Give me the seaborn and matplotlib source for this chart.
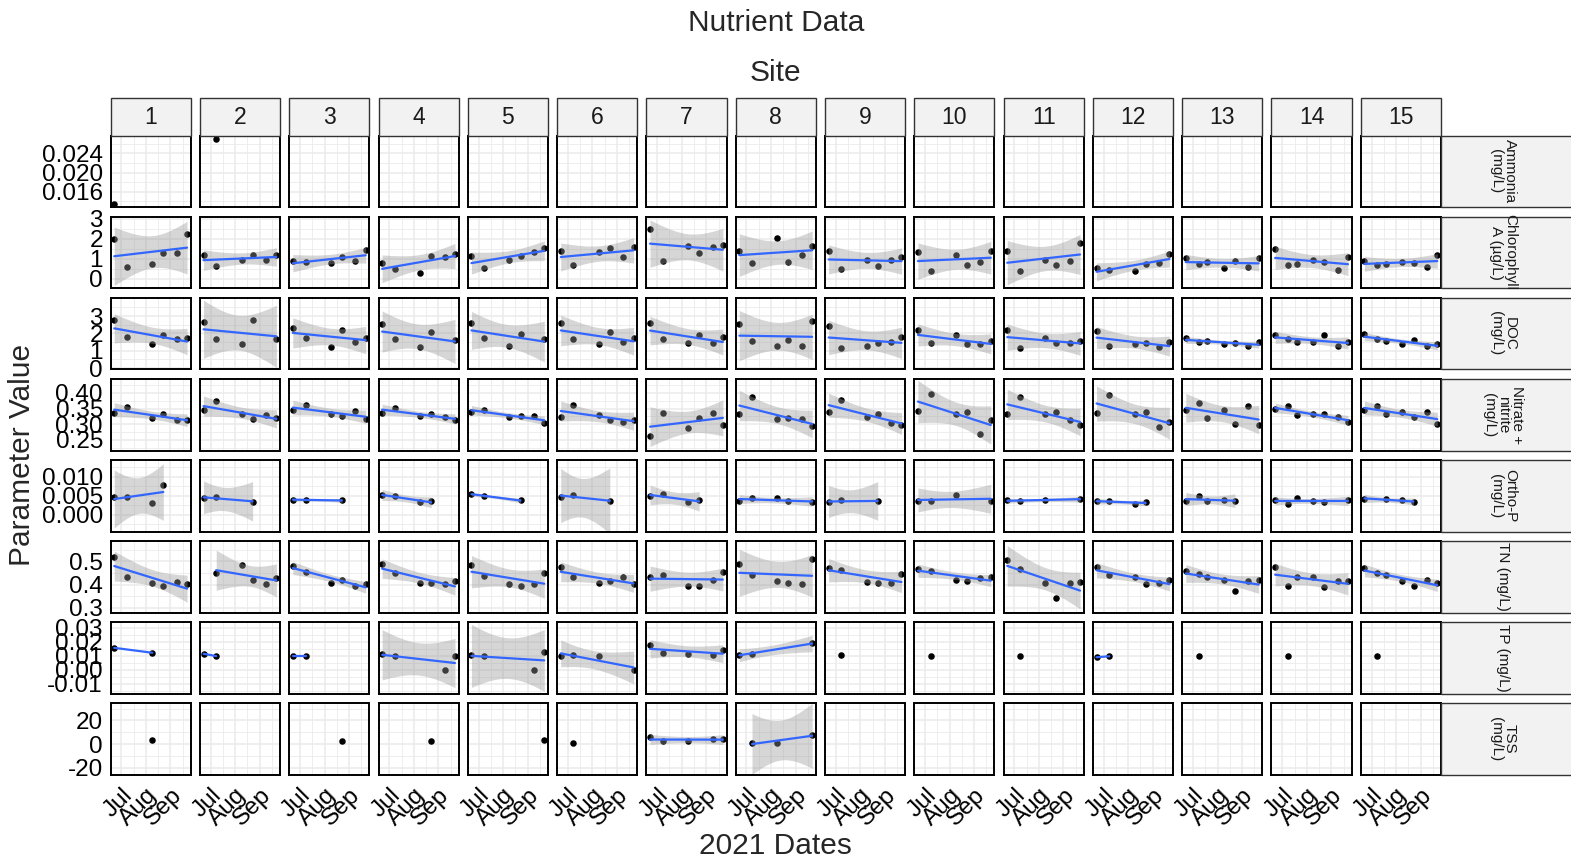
import numpy as np
import pandas as pd
import matplotlib
matplotlib.use("Agg")
import matplotlib.pyplot as plt
import matplotlib.dates as mdates
from matplotlib.patches import Rectangle
import seaborn as sns

# ---------------- data ----------------
SITES = [str(i) for i in range(1, 16)]
DATES = ["2021-06-22", "2021-07-08", "2021-07-19", "2021-08-09",
         "2021-08-23", "2021-09-09", "2021-09-22"]
PARAM_LABELS = ["Ammonia\n(mg/L)", "Chlorophyll\nA (µg/L)", "DOC\n(mg/L)",
                "Nitrate +\nnitrite\n(mg/L)", "Ortho-P\n(mg/L)", "TN (mg/L)",
                "TP (mg/L)", "TSS\n(mg/L)"]
X_TICKS = ["2021-07-01", "2021-08-01", "2021-09-01"]
X_TICK_LABELS = ["Jul", "Aug", "Sep"]

N = None
AMMONIA = [[0.0135, N, N, N, N, N, N], [N, 0.027, N, N, N, N, N]] + [[N] * 7 for _ in range(13)]

CHLA = [
    [2.00, 0.60, N, 0.75, 1.30, 1.30, 2.25],
    [1.22, 0.63, N, 0.97, 1.18, 0.93, 1.22],
    [0.92, 0.83, N, 0.78, 1.10, 0.92, 1.45],
    [0.80, 0.48, N, 0.30, 1.15, 1.10, 1.27],
    [1.15, 0.57, N, 0.97, 1.15, 1.33, 1.57],
    [1.40, 0.70, N, 1.37, 1.53, 1.08, 1.58],
    [2.50, 0.90, N, 1.63, 1.30, 1.58, 1.70],
    [1.40, 0.80, N, 2.03, 0.85, 1.20, 1.65],
    [1.40, 0.52, N, 0.97, 0.63, 0.97, 1.08],
    [1.35, 0.40, N, 1.20, 0.68, 0.87, 1.40],
    [1.40, 0.40, N, 0.97, 0.68, 0.92, 1.82],
    [0.53, 0.45, N, 0.40, 0.77, 0.80, 1.25],
    [1.03, 0.73, 0.85, 0.53, 0.92, 0.58, 1.03],
    [1.48, 0.68, 0.73, 0.97, 0.85, 0.47, 1.08],
    [0.92, 0.68, 0.73, 0.85, 0.80, 0.58, 1.20],
]

DOC = [
    [2.78, 1.80, N, 1.40, 1.89, 1.66, 1.75],
    [2.66, 1.68, N, 1.41, 2.79, N, 1.68],
    [2.33, 1.76, N, 1.24, 2.22, 1.51, 1.76],
    [2.53, 1.68, N, 1.24, 2.09, N, 1.64],
    [2.60, 1.76, N, 1.30, 1.97, N, 1.70],
    [2.62, 1.69, N, 1.36, 2.08, 1.50, 1.75],
    [2.62, 1.69, N, 1.42, 1.88, 1.42, 1.81],
    [2.52, 1.56, N, 1.29, 1.61, 1.29, 2.73],
    [2.40, 1.17, N, 1.29, 1.42, 1.48, 1.81],
    [2.21, 1.42, N, 1.88, 1.36, 1.36, 1.56],
    [2.21, 1.17, N, 1.75, 1.42, 1.42, 1.56],
    [2.15, 1.29, N, 1.36, 1.42, 1.23, 1.50],
    [1.75, 1.50, 1.56, 1.36, 1.42, 1.29, 1.50],
    [1.88, 1.69, 1.50, 1.50, 1.88, 1.29, 1.50],
    [1.94, 1.69, 1.56, 1.36, 1.61, 1.29, 1.36],
]

NITRATE = [
    [0.337, 0.354, N, 0.320, 0.334, 0.313, 0.312],
    [0.345, 0.374, N, 0.331, 0.316, 0.329, 0.320],
    [0.345, 0.360, N, 0.334, 0.327, 0.342, 0.316],
    [0.337, 0.353, N, 0.327, 0.331, 0.324, 0.312],
    [0.339, 0.346, N, 0.324, 0.325, 0.325, 0.305],
    [0.324, 0.360, N, 0.328, 0.315, 0.308, 0.313],
    [0.262, 0.337, N, 0.288, 0.320, 0.337, 0.299],
    [0.334, 0.386, N, 0.317, 0.320, 0.317, 0.294],
    [0.339, 0.378, N, 0.324, 0.331, 0.305, 0.299],
    [0.342, 0.397, N, 0.331, 0.339, 0.270, 0.313],
    [0.334, 0.386, N, 0.331, 0.339, 0.313, 0.296],
    [0.335, 0.392, N, 0.331, 0.339, 0.291, 0.306],
    [0.346, 0.368, 0.320, 0.346, 0.302, 0.357, 0.296],
    [0.349, 0.357, 0.328, 0.331, 0.331, 0.324, 0.306],
    [0.346, 0.357, 0.331, 0.339, 0.324, 0.339, 0.302],
]

ORTHO_P = [
    [0.0047, 0.0047, N, 0.0032, 0.0079, N, N],
    [0.0044, 0.0047, N, N, 0.0035, N, N],
    [0.0040, 0.0040, N, N, 0.0038, N, N],
    [0.0052, 0.0050, N, 0.0033, 0.0036, N, N],
    [0.0055, 0.0050, N, N, 0.0038, N, N],
    [0.0047, 0.0053, N, N, 0.0036, N, N],
    [0.0049, 0.0055, N, 0.0033, 0.0039, N, N],
    [0.0037, 0.0044, N, 0.0044, 0.0036, N, 0.0033],
    [0.0033, 0.0039, N, N, 0.0036, N, N],
    [0.0037, 0.0036, N, 0.0053, N, N, 0.0037],
    [0.0039, 0.0036, N, 0.0039, N, N, 0.0042],
    [0.0036, 0.0036, N, 0.0030, 0.0033, N, N],
    [0.0036, 0.0051, 0.0036, 0.0039, 0.0036, N, N],
    [0.0039, 0.0030, 0.0044, 0.0036, 0.0033, N, 0.0039],
    [0.0042, N, 0.0042, 0.0039, 0.0033, N, N],
]

TN = [
    [0.520, 0.434, N, 0.406, 0.394, 0.411, 0.401],
    [N, 0.448, N, 0.486, 0.420, 0.401, 0.430],
    [0.482, 0.455, N, 0.408, 0.420, 0.394, 0.401],
    [0.490, 0.448, N, 0.406, 0.406, 0.401, 0.415],
    [0.486, 0.439, N, 0.401, 0.392, 0.401, 0.448],
    [0.477, 0.431, N, 0.407, 0.417, 0.435, 0.403],
    [0.435, 0.441, N, 0.396, 0.396, 0.421, 0.453],
    [0.487, 0.441, N, 0.417, 0.407, 0.403, 0.509],
    [0.473, 0.463, N, 0.413, 0.407, 0.407, 0.445],
    [0.467, 0.459, N, 0.421, 0.417, 0.427, 0.431],
    [0.505, 0.467, N, 0.407, 0.342, 0.407, 0.413],
    [0.477, 0.441, N, 0.431, 0.403, 0.407, 0.420],
    [0.459, 0.445, 0.431, 0.421, 0.374, 0.417, 0.421],
    [0.477, 0.396, 0.435, 0.431, 0.388, 0.417, 0.417],
    [0.473, 0.449, 0.441, 0.417, 0.393, 0.421, 0.407],
]

TP = [
    [0.0157, N, N, 0.0122, N, N, N],
    [0.0115, 0.0098, N, N, N, N, N],
    [0.0098, 0.0098, N, N, N, N, N],
    [0.0115, 0.0098, N, N, N, 0.0000, 0.0098],
    [0.0107, 0.0098, N, N, N, 0.0000, 0.0129],
    [0.0097, 0.0107, N, 0.0097, N, N, 0.0000],
    [0.0178, 0.0122, N, 0.0115, N, 0.0107, 0.0139],
    [0.0107, 0.0115, N, N, N, N, 0.0188],
    [N, 0.0107, N, N, N, N, N],
    [N, 0.0097, N, N, N, N, N],
    [N, 0.0097, N, N, N, N, N],
    [0.0090, 0.0097, N, N, N, N, N],
    [N, 0.0097, N, N, N, N, N],
    [N, 0.0097, N, N, N, N, N],
    [N, 0.0097, N, N, N, N, N],
]

TSS = [
    [N, N, N, 3.1, N, N, N],
    [N] * 7,
    [N, N, N, N, 2.2, N, N],
    [N, N, N, N, 2.2, N, N],
    [N, N, N, N, N, N, 3.1],
    [N, 1.1, N, N, N, N, N],
    [5.85, 2.25, N, 2.25, N, 3.9, 4.7],
    [N, 1.1, N, 1.1, N, N, 7.8],
] + [[N] * 7 for _ in range(7)]

PARAMS = [AMMONIA, CHLA, DOC, NITRATE, ORTHO_P, TN, TP, TSS]

Y_TICKS = [[0.016, 0.020, 0.024], [0, 1, 2, 3], [0, 1, 2, 3],
           [0.25, 0.30, 0.35, 0.40], [0.000, 0.005, 0.010], [0.3, 0.4, 0.5],
           [-0.01, 0.00, 0.01, 0.02, 0.03], [-20, 0, 20]]
Y_TICK_LABELS = [["0.016", "0.020", "0.024"], ["0", "1", "2", "3"], ["0", "1", "2", "3"],
                 ["0.25", "0.30", "0.35", "0.40"], ["0.000", "0.005", "0.010"],
                 ["0.3", "0.4", "0.5"], ["-0.01", "0.00", "0.01", "0.02", "0.03"],
                 ["-20", "0", "20"]]
Y_LIMS = [(0.0128, 0.0277), (-0.47, 3.12), (-0.08, 4.06), (0.216, 0.445),
          (-0.0044, 0.0145), (0.279, 0.588), (-0.017, 0.034), (-26.0, 34.5)]

# ---------------- style ----------------
sns.set_style("white")
plt.rcParams['font.family'] = ['Liberation Sans', 'DejaVu Sans']
plt.rcParams['axes.unicode_minus'] = False

W, H = 1571, 865
fig = plt.figure(figsize=(W / 100, H / 100), dpi=100)
fig.patch.set_facecolor("white")

PX0, PITCH_X, PW = 110.6, 89.3, 80.1
PY0, PITCH_Y, PH = 135.5, 81.1, 71.7
STRIP_TOP = 98.5
RSTRIP_X0, RSTRIP_X1 = 1441.3, 1580.0

GRID_C = "#EBEBEB"
T975 = {1: 12.706, 2: 4.303, 3: 3.182, 4: 2.776, 5: 2.571, 6: 2.447}


def frect(left, top, w, h):
    return [left / W, 1 - (top + h) / H, w / W, h / H]


date_num = mdates.date2num(pd.to_datetime(DATES))
xmin, xmax = date_num.min(), date_num.max()
xpad = 0.05 * (xmax - xmin)
XLIM = (xmin - xpad, xmax + xpad)
xmaj = mdates.date2num(pd.to_datetime(X_TICKS))
xminor = [xmaj[0] - (xmaj[1] - xmaj[0]) / 2] + \
         [(a + b) / 2 for a, b in zip(xmaj[:-1], xmaj[1:])] + \
         [xmaj[-1] + (xmaj[-1] - xmaj[-2]) / 2]

for r, data in enumerate(PARAMS):
    ticks = Y_TICKS[r]
    step = ticks[1] - ticks[0]
    yminor = [ticks[0] - step / 2] + [t + step / 2 for t in ticks]
    for c in range(len(SITES)):
        left = PX0 + c * PITCH_X
        top = PY0 + r * PITCH_Y
        ax = fig.add_axes(frect(left, top, PW, PH))
        ax.set_facecolor("white")

        vals = np.array([np.nan if v is None else v for v in data[c]], dtype=float)
        m = ~np.isnan(vals)
        xs, ys = date_num[m], vals[m]
        n = len(xs)
        if n >= 1:
            sns.scatterplot(x=xs, y=ys, ax=ax, color="black", s=22,
                            linewidth=0, zorder=3, legend=False)
        if n >= 3:
            xm = xs.mean()
            xc = xs - xm
            sxx = np.sum(xc ** 2)
            b = np.sum(xc * (ys - ys.mean())) / sxx
            a = ys.mean()
            resid = ys - (a + b * xc)
            s = np.sqrt(np.sum(resid ** 2) / (n - 2))
            grid = np.linspace(xs.min(), xs.max(), 80)
            fit = a + b * (grid - xm)
            se = s * np.sqrt(1 / n + (grid - xm) ** 2 / sxx)
            tval = T975[n - 2]
            ax.fill_between(grid, fit - tval * se, fit + tval * se,
                            color="#999999", alpha=0.4, linewidth=0, zorder=4)
        if n >= 2:
            sns.regplot(x=xs, y=ys, ax=ax, scatter=False, ci=None, truncate=True,
                        color="#3366FF", line_kws=dict(lw=1.6, zorder=5))

        ax.set_xticks(xmaj)
        ax.set_xticks(xminor, minor=True)
        ax.set_yticks(ticks)
        ax.set_yticks(yminor, minor=True)
        ax.set_xlim(*XLIM)
        ax.set_ylim(*Y_LIMS[r])
        ax.set_xlabel("")
        ax.set_ylabel("")
        ax.grid(which="major", color=GRID_C, lw=1.1, zorder=0)
        ax.grid(which="minor", color=GRID_C, lw=0.6, zorder=0)
        ax.set_axisbelow(True)
        ax.tick_params(which="minor", length=0)
        ax.tick_params(which="major", direction="out", color="#333333", width=1.0)

        if c == 0:
            ax.set_yticklabels(Y_TICK_LABELS[r])
            ax.tick_params(axis="y", length=3.0, pad=2.5, labelsize=17.5,
                           labelcolor="black")
        else:
            ax.tick_params(axis="y", length=0, labelleft=False)
        if r == len(PARAMS) - 1:
            ax.set_xticklabels(X_TICK_LABELS)
            ax.tick_params(axis="x", length=3.0, pad=3.5, labelsize=17.5,
                           labelcolor="black")
            for lab in ax.get_xticklabels():
                lab.set_rotation(45)
                lab.set_ha("right")
                lab.set_va("top")
                lab.set_rotation_mode("anchor")
        else:
            ax.tick_params(axis="x", length=0, labelbottom=False)

        for sp in ax.spines.values():
            sp.set_color("black")
            sp.set_linewidth(1.4)
            sp.set_zorder(10)
            sp.set_visible(True)

# top strips (site)
for c, site in enumerate(SITES):
    left = PX0 + c * PITCH_X
    fig.add_artist(Rectangle((left / W, 1 - PY0 / H), PW / W, (PY0 - STRIP_TOP) / H,
                             transform=fig.transFigure, facecolor="#F2F2F2",
                             edgecolor="#333333", linewidth=1.0))
    fig.text((left + PW / 2) / W, 1 - (STRIP_TOP + PY0) / 2 / H, site,
             ha="center", va="center", fontsize=16.5, color="#1A1A1A")

# right strips (parameter)
for r, lab in enumerate(PARAM_LABELS):
    top = PY0 + r * PITCH_Y
    fig.add_artist(Rectangle((RSTRIP_X0 / W, 1 - (top + PH) / H),
                             (RSTRIP_X1 - RSTRIP_X0) / W, PH / H,
                             transform=fig.transFigure, facecolor="#F2F2F2",
                             edgecolor="#333333", linewidth=1.0))
    fig.text(1503 / W, 1 - (top + PH / 2) / H, lab, rotation=-90,
             ha="center", va="center", multialignment="center",
             fontsize=11, color="#1A1A1A", linespacing=1.0)

CX = (PX0 + 14 * PITCH_X + PW + PX0) / 2
fig.text(CX / W, 1 - 23 / H, "Nutrient Data", ha="center", va="center", fontsize=21.5)
fig.text(CX / W, 1 - 73 / H, "Site", ha="center", va="center", fontsize=21.5)
fig.text(CX / W, 1 - 846 / H, "2021 Dates", ha="center", va="center", fontsize=21.5)
fig.text(22 / W, 1 - 455 / H, "Parameter Value", rotation=90, ha="center",
         va="center", fontsize=21.5)

fig.savefig("out.png", dpi=100, facecolor="white")
